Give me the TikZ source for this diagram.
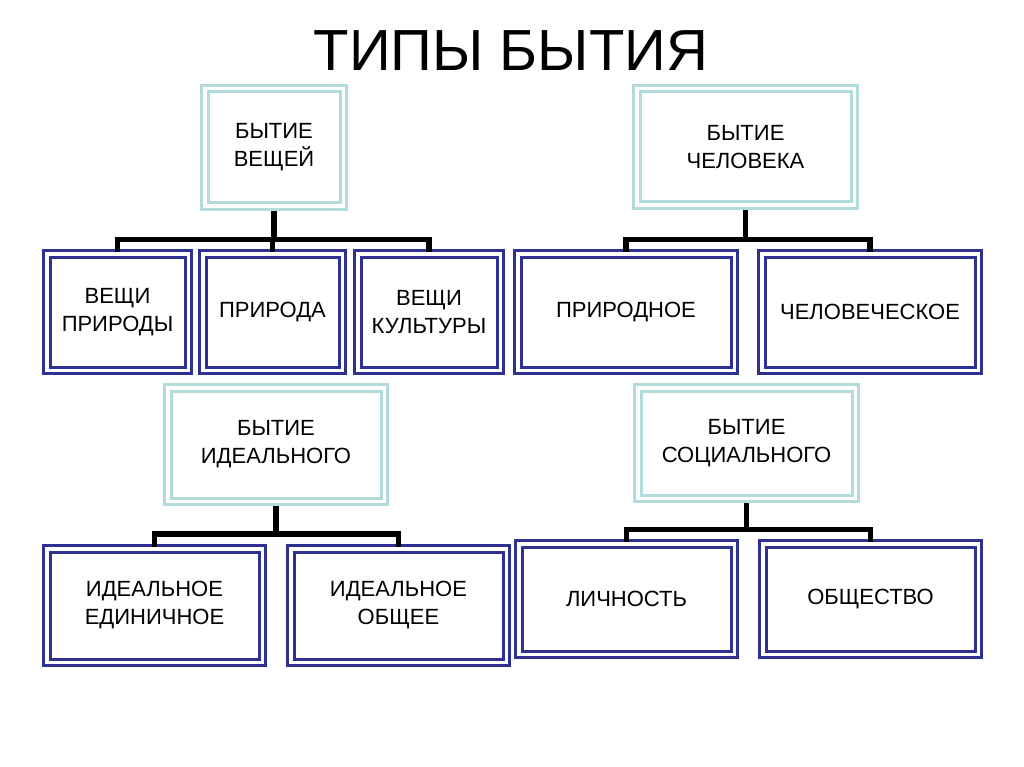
\documentclass[tikz,border=0pt]{standalone}
\usepackage{fontspec}
\setmainfont{Liberation Sans}
\definecolor{boxblue}{RGB}{46,49,146}
\definecolor{boxteal}{RGB}{178,220,220}
\begin{document}
\begin{tikzpicture}[x=1pt,y=-1pt,
  lbl/.style={font=\fontsize{22}{28}\selectfont, align=center, text=black},
  bluebox/.style={lbl, draw=boxblue, line width=3pt, double=white, double distance=3.5pt, fill=white, inner sep=0pt, outer sep=4.75pt},
  tealbox/.style={lbl, draw=boxteal, line width=3pt, double=white, double distance=3.5pt, fill=white, inner sep=0pt, outer sep=4.75pt},
  conn/.style={draw=black, line width=5.5pt, line join=miter}]
\useasboundingbox (0,0) rectangle (1024,767);
\fill[white] (0,0) rectangle (1024,767);

\node[font=\fontsize{58}{60}\selectfont] (title) at (511,51) {ТИПЫ БЫТИЯ};

% parents
\node[tealbox, minimum width=138.5pt, minimum height=117.5pt] (ves) at (274,147.5) {БЫТИЕ\\ВЕЩЕЙ};
\node[tealbox, minimum width=217.5pt, minimum height=116.5pt] (chel) at (745.5,147) {БЫТИЕ\\ЧЕЛОВЕКА};
\node[tealbox, minimum width=216.5pt, minimum height=113.5pt] (ideal) at (276,444.5) {БЫТИЕ\\ИДЕАЛЬНОГО};
\node[tealbox, minimum width=217.5pt, minimum height=110.5pt] (soc) at (746.5,443) {БЫТИЕ\\СОЦИАЛЬНОГО};

% children row 1
\node[bluebox, minimum width=141.5pt, minimum height=116.5pt] (vp) at (117.5,312) {ВЕЩИ\\ПРИРОДЫ};
\node[bluebox, minimum width=139.5pt, minimum height=116.5pt] (prir) at (272.5,312) {ПРИРОДА};
\node[bluebox, minimum width=142.5pt, minimum height=116.5pt] (kult) at (429,312) {ВЕЩИ\\КУЛЬТУРЫ};
\node[bluebox, minimum width=216.5pt, minimum height=116.5pt] (prod) at (626,312) {ПРИРОДНОЕ};
\node[bluebox, minimum width=216.5pt, minimum height=116.5pt] (chelsk) at (870,312) {ЧЕЛОВЕЧЕСКОЕ};

% children row 3
\node[bluebox, minimum width=215.5pt, minimum height=113.5pt] (ided) at (154.5,605.5) {ИДЕАЛЬНОЕ\\ЕДИНИЧНОЕ};
\node[bluebox, minimum width=215.5pt, minimum height=113.5pt] (idob) at (398.5,605.5) {ИДЕАЛЬНОЕ\\ОБЩЕЕ};
\node[bluebox, minimum width=215.5pt, minimum height=110.5pt] (lich) at (626.5,599) {ЛИЧНОСТЬ};
\node[bluebox, minimum width=215.5pt, minimum height=110.5pt] (obsh) at (870.5,599) {ОБЩЕСТВО};

% bars
\coordinate (bar1) at (0,239.5);
\coordinate (bar2) at (0,534);
\coordinate (bar3) at (0,529.5);

\draw[conn] (ves.south) -- (ves.south |- bar1);
\draw[conn] ([yshift=-3pt]vp.north) -- (vp.north |- bar1) -| ([yshift=-3pt]kult.north);
\draw[conn] ([yshift=-3pt]prir.north) -- (prir.north |- bar1);

\draw[conn] (chel.south) -- (chel.south |- bar1);
\draw[conn] ([yshift=-3pt]prod.north) -- (prod.north |- bar1) -| ([yshift=-3pt]chelsk.north);

\draw[conn] (ideal.south) -- (ideal.south |- bar2);
\draw[conn] ([yshift=-3pt]ided.north) -- (ided.north |- bar2) -| ([yshift=-3pt]idob.north);

\draw[conn] (soc.south) -- (soc.south |- bar3);
\draw[conn] ([yshift=-3pt]lich.north) -- (lich.north |- bar3) -| ([yshift=-3pt]obsh.north);
\end{tikzpicture}
\end{document}
